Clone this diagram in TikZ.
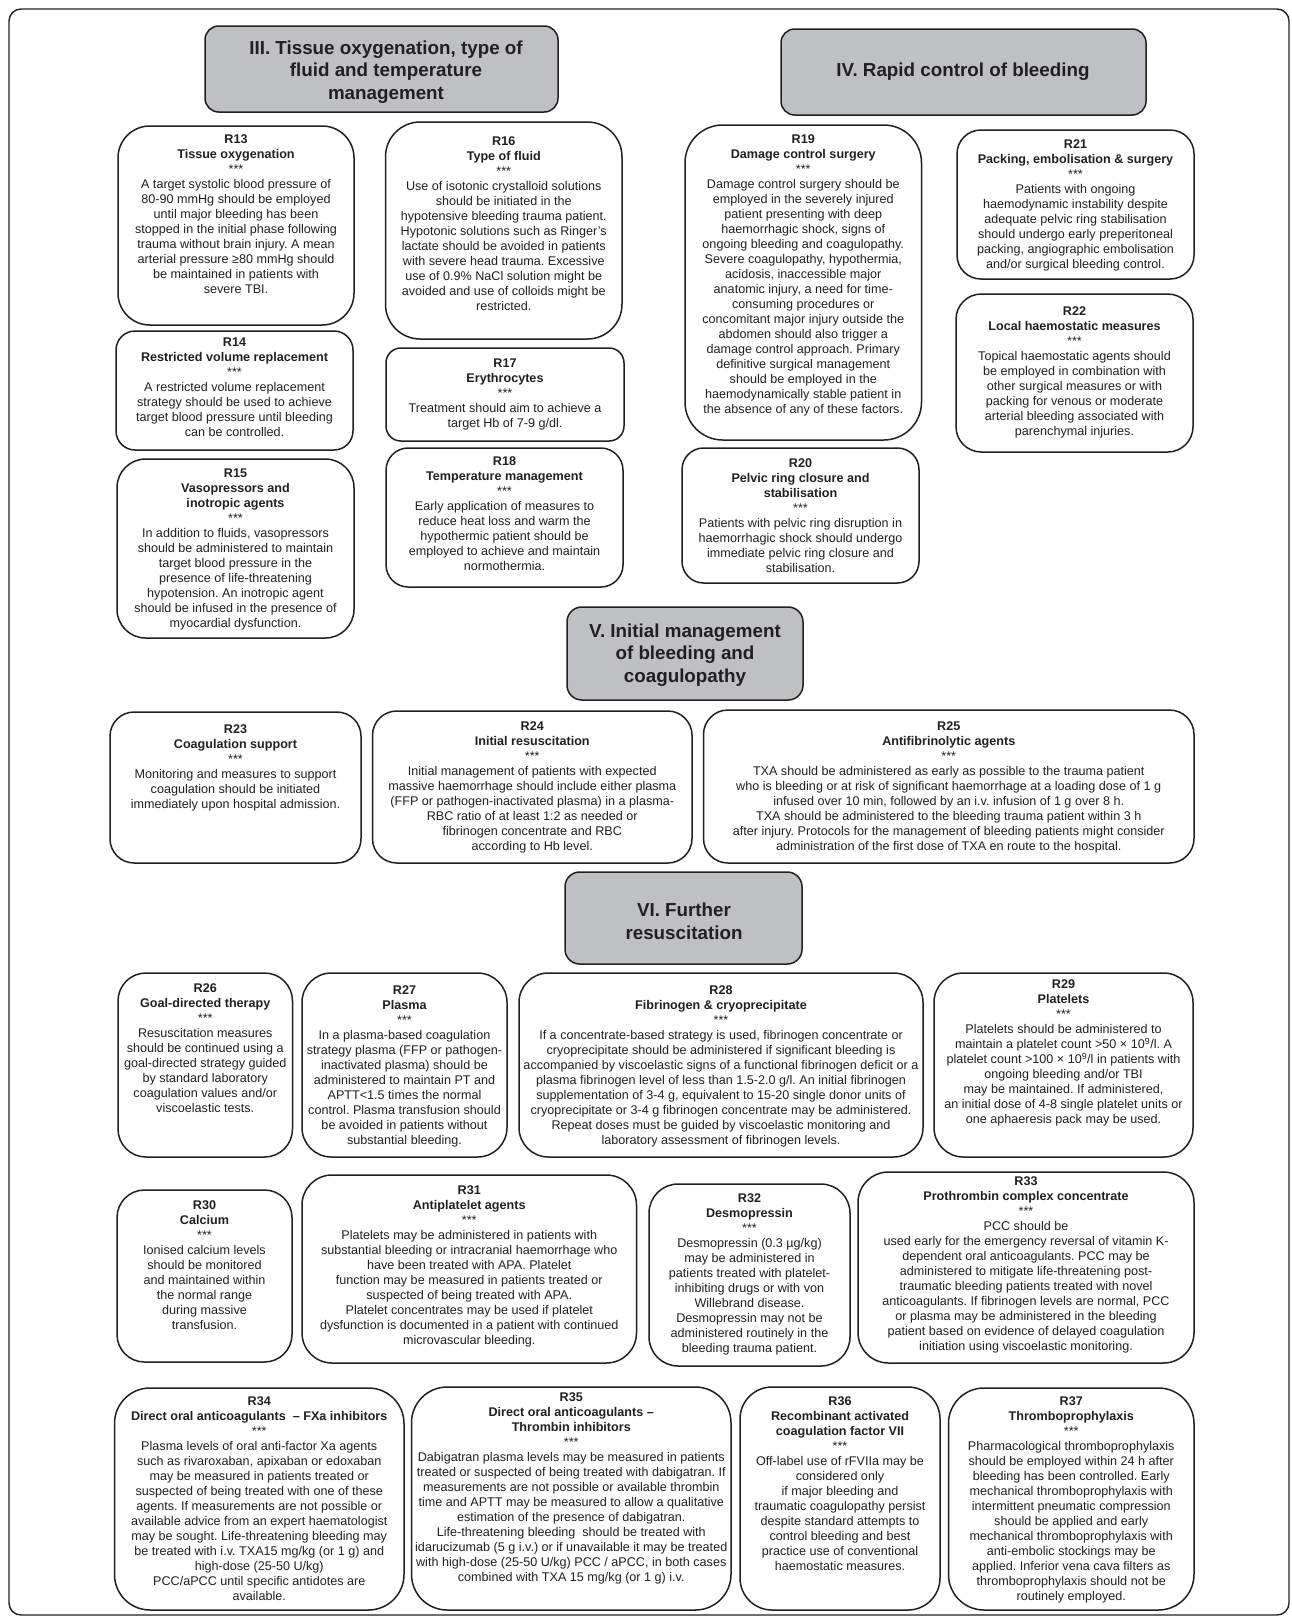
\documentclass[tikz,border=0pt]{standalone}
\usepackage{fontspec}
\setmainfont{Liberation Sans}
\frenchspacing
\definecolor{hdrfill}{RGB}{191,192,195}
\definecolor{ink}{RGB}{35,31,32}
\tikzset{
  rbox/.style={draw=ink, line width=1.5pt, fill=white, inner sep=0pt, outer sep=0pt},
  hbox/.style={draw=ink, line width=1.5pt, fill=hdrfill, inner sep=0pt, outer sep=0pt},
  rtext/.style={text=ink, align=center, inner sep=0pt, font=\fontsize{12.6}{15.0}\selectfont\frenchspacing},
  htext/.style={text=ink, align=center, inner sep=0pt, font=\fontsize{18.8}{22.8}\selectfont\bfseries},
  frame/.style={draw=ink, line width=1.4pt, rounded corners=12pt}
}
\newcommand{\T}[1]{\textbf{#1}}
\newcommand{\RB}[7]{%
  \pgfmathsetmacro{\rbw}{#4-#2}%
  \pgfmathsetmacro{\rbh}{#5-#3}%
  \pgfmathsetmacro{\rbr}{0.16*min(\rbw,\rbh)}%
  \node[rbox, minimum width=\rbw pt, minimum height=\rbh pt, rounded corners=\rbr pt] (#1) at ({(#2+#4)/2},{(#3+#5)/2}) {};
  \node[rtext, anchor=north] (#1t) at ({(#2+#4)/2},{#6-4.6}) {#7};
}
\newcommand{\HB}[8]{%
  \pgfmathsetmacro{\rbw}{#4-#2}%
  \pgfmathsetmacro{\rbh}{#5-#3}%
  \pgfmathsetmacro{\rbr}{0.16*min(\rbw,\rbh)}%
  \node[hbox, minimum width=\rbw pt, minimum height=\rbh pt, rounded corners=\rbr pt] (#1) at ({(#2+#4)/2},{(#3+#5)/2}) {};
  \node[htext] (#1t) at (#6,#7) {#8};
}
\begin{document}
\begin{tikzpicture}[x=1pt,y=-1pt]
\useasboundingbox (0,0) rectangle (1292,1617);
\draw[frame] (9,9) rectangle (1289,1615);

% ---------- headers
\HB{h3}{205}{26}{558}{112}{386}{72}{III. Tissue oxygenation, type of\\fluid and temperature\\management}
\HB{h4}{781}{29}{1146}{115}{963}{72}{IV. Rapid control of bleeding}
\HB{h5}{567}{607}{803}{700}{685}{655}{V. Initial management\\of bleeding and\\coagulopathy}
\HB{h6}{565}{872}{802}{964}{684}{921}{VI. Further\\resuscitation}

% ---------- section III
\RB{r13}{118}{126}{354}{325}{139}{\T{R13}\\\T{Tissue oxygenation}\\***\\A target systolic blood pressure of\\80-90 mmHg should be employed\\until major bleeding has been\\stopped in the initial phase following\\trauma without brain injury. A mean\\arterial pressure ≥80 mmHg should\\be maintained in patients with\\severe TBI.}
\RB{r16}{385.5}{122}{622}{339}{141}{\T{R16}\\\T{Type of fluid}\\***\\Use of isotonic crystalloid solutions\\should be initiated in the\\hypotensive bleeding trauma patient.\\Hypotonic solutions such as Ringer’s\\lactate should be avoided in patients\\with severe head trauma. Excessive\\use of 0.9\% NaCl solution might be\\avoided and use of colloids might be\\restricted.}
\RB{r14}{116}{331}{353}{450}{342.5}{\T{R14}\\\T{Restricted volume replacement}\\***\\A restricted volume replacement\\strategy should be used to achieve\\target blood pressure until bleeding\\can be controlled.}
\RB{r17}{386}{348}{624}{441}{363}{\T{R17}\\\T{Erythrocytes}\\***\\Treatment should aim to achieve a\\target Hb of 7-9 g/dl.}
\RB{r15}{117}{459}{354}{638}{473}{\T{R15}\\\T{Vasopressors and}\\\T{inotropic agents}\\***\\In addition to fluids, vasopressors\\should be administered to maintain\\target blood pressure in the\\presence of life-threatening\\hypotension. An inotropic agent\\should be infused in the presence of\\myocardial dysfunction.}
\RB{r18}{386}{448}{623}{587}{461}{\T{R18}\\\T{Temperature management}\\***\\Early application of measures to\\reduce heat loss and warm the\\hypothermic patient should be\\employed to achieve and maintain\\normothermia.}

% ---------- section IV
\RB{r19}{685}{125}{921.5}{440}{139}{\T{R19}\\\T{Damage control surgery}\\***\\Damage control surgery should be\\employed in the severely injured\\patient presenting with deep\\haemorrhagic shock, signs of\\ongoing bleeding and coagulopathy.\\Severe coagulopathy, hypothermia,\\acidosis, inaccessible major\\anatomic injury, a need for time-\\consuming procedures or\\concomitant major injury outside the\\abdomen should also trigger a\\damage control approach. Primary\\definitive surgical management\\should be employed in the\\haemodynamically stable patient in\\the absence of any of these factors.}
\RB{r21}{957}{130}{1194}{279}{144}{\T{R21}\\\T{Packing, embolisation \& surgery}\\***\\Patients with ongoing\\haemodynamic instability despite\\adequate pelvic ring stabilisation\\should undergo early preperitoneal\\packing, angiographic embolisation\\and/or surgical bleeding control.}
\RB{r22}{956}{294}{1193}{452}{311.5}{\T{R22}\\\T{Local haemostatic measures}\\***\\Topical haemostatic agents should\\be employed in combination with\\other surgical measures or with\\packing for venous or moderate\\arterial bleeding associated with\\parenchymal injuries.}
\RB{r20}{682}{448}{919}{583}{463}{\T{R20}\\\T{Pelvic ring closure and}\\\T{stabilisation}\\***\\Patients with pelvic ring disruption in\\haemorrhagic shock should undergo\\immediate pelvic ring closure and\\stabilisation.}

% ---------- section V
\RB{r23}{110}{712}{361}{863}{729}{\T{R23}\\\T{Coagulation support}\\***\\Monitoring and measures to support\\coagulation should be initiated\\immediately upon hospital admission.}
\RB{r24}{372.5}{711}{692}{863}{726}{\T{R24}\\\T{Initial resuscitation}\\***\\Initial management of patients with expected\\massive haemorrhage should include either plasma\\(FFP or pathogen-inactivated plasma) in a plasma-\\RBC ratio of at least 1:2 as needed or\\fibrinogen concentrate and RBC\\according to Hb level.}
\RB{r25}{703.5}{710}{1194}{863}{726}{\T{R25}\\\T{Antifibrinolytic agents}\\***\\TXA should be administered as early as possible to the trauma patient\\who is bleeding or at risk of significant haemorrhage at a loading dose of 1 g\\infused over 10 min, followed by an i.v. infusion of 1 g over 8 h.\\TXA should be administered to the bleeding trauma patient within 3 h\\after injury. Protocols for the management of bleeding patients might consider\\administration of the first dose of TXA en route to the hospital.}

% ---------- section VI
\RB{r26}{118}{973}{292.5}{1157}{988}{\T{R26}\\\T{Goal-directed therapy}\\***\\Resuscitation measures\\should be continued using a\\goal-directed strategy guided\\by standard laboratory\\coagulation values and/or\\viscoelastic tests.}
\RB{r27}{302}{973}{507}{1157}{990}{\T{R27}\\\T{Plasma}\\***\\In a plasma-based coagulation\\strategy plasma (FFP or pathogen-\\inactivated plasma) should be\\administered to maintain PT and\\APTT<1.5 times the normal\\control. Plasma transfusion should\\be avoided in patients without\\substantial bleeding.}
\RB{r28}{519}{973}{923}{1157}{990}{\T{R28}\\\T{Fibrinogen \& cryoprecipitate}\\***\\If a concentrate-based strategy is used, fibrinogen concentrate or\\cryoprecipitate should be administered if significant bleeding is\\accompanied by viscoelastic signs of a functional fibrinogen deficit or a\\plasma fibrinogen level of less than 1.5-2.0 g/l. An initial fibrinogen\\supplementation of 3-4 g, equivalent to 15-20 single donor units of\\cryoprecipitate or 3-4 g fibrinogen concentrate may be administered.\\Repeat doses must be guided by viscoelastic monitoring and\\laboratory assessment of fibrinogen levels.}
\RB{r29}{934}{973}{1193}{1157}{984}{\T{R29}\\\T{Platelets}\\***\\Platelets should be administered to\\maintain a platelet count >50 × 10\textsuperscript{9}/l. A\\platelet count >100 × 10\textsuperscript{9}/l in patients with\\ongoing bleeding and/or TBI\\may be maintained. If administered,\\an initial dose of 4-8 single platelet units or\\one aphaeresis pack may be used.}
\RB{r30}{117}{1190}{292}{1362}{1205.5}{\T{R30}\\\T{Calcium}\\***\\Ionised calcium levels\\should be monitored\\and maintained within\\the normal range\\during massive\\transfusion.}
\RB{r31}{302}{1175}{636.5}{1363}{1190}{\T{R31}\\\T{Antiplatelet agents}\\***\\Platelets may be administered in patients with\\substantial bleeding or intracranial haemorrhage who\\have been treated with APA. Platelet\\function may be measured in patients treated or\\suspected of being treated with APA.\\Platelet concentrates may be used if platelet\\dysfunction is documented in a patient with continued\\microvascular bleeding.}
\RB{r32}{649}{1184}{850}{1366}{1198}{\T{R32}\\\T{Desmopressin}\\***\\Desmopressin (0.3 µg/kg)\\may be administered in\\patients treated with platelet-\\inhibiting drugs or with von\\Willebrand disease.\\Desmopressin may not be\\administered routinely in the\\bleeding trauma patient.}
\RB{r33}{858}{1172}{1194}{1363}{1181.5}{\T{R33}\\\T{Prothrombin complex concentrate}\\***\\PCC should be\\used early for the emergency reversal of vitamin K-\\dependent oral anticoagulants. PCC may be\\administered to mitigate life-threatening post-\\traumatic bleeding patients treated with novel\\anticoagulants. If fibrinogen levels are normal, PCC\\or plasma may be administered in the bleeding\\patient based on evidence of delayed coagulation\\initiation using viscoelastic monitoring.}
\RB{r34}{114.5}{1388}{404}{1610}{1401.5}{\T{R34}\\\T{Direct oral anticoagulants~ – FXa inhibitors}\\***\\Plasma levels of oral anti-factor Xa agents\\such as rivaroxaban, apixaban or edoxaban\\may be measured in patients treated or\\suspected of being treated with one of these\\agents. If measurements are not possible or\\available advice from an expert haematologist\\may be sought. Life-threatening bleeding may\\be treated with i.v. TXA15 mg/kg (or 1 g) and\\high-dose (25-50 U/kg)\\PCC/aPCC until specific antidotes are\\available.}
\RB{r35}{411.5}{1387}{731}{1610}{1397.5}{\T{R35}\\\T{Direct oral anticoagulants –}\\\T{Thrombin inhibitors}\\***\\Dabigatran plasma levels may be measured in patients\\treated or suspected of being treated with dabigatran. If\\measurements are not possible or available thrombin\\time and APTT may be measured to allow a qualitative\\estimation of the presence of dabigatran.\\Life-threatening bleeding~ should be treated with\\idarucizumab (5 g i.v.) or if unavailable it may be treated\\with high-dose (25-50 U/kg) PCC / aPCC, in both cases\\combined with TXA 15 mg/kg (or 1 g) i.v.}
\RB{r36}{740}{1387}{940}{1610}{1401.5}{\T{R36}\\\T{Recombinant activated}\\\T{coagulation factor VII}\\***\\Off-label use of rFVIIa may be\\considered only\\if major bleeding and\\traumatic coagulopathy persist\\despite standard attempts to\\control bleeding and best\\practice use of conventional\\haemostatic measures.}
\RB{r37}{948.5}{1388}{1194}{1610}{1401.5}{\T{R37}\\\T{Thromboprophylaxis}\\***\\Pharmacological thromboprophylaxis\\should be employed within 24 h after\\bleeding has been controlled. Early\\mechanical thromboprophylaxis with\\intermittent pneumatic compression\\should be applied and early\\mechanical thromboprophylaxis with\\anti-embolic stockings may be\\applied. Inferior vena cava filters as\\thromboprophylaxis should not be\\routinely employed.}
\end{tikzpicture}
\end{document}
